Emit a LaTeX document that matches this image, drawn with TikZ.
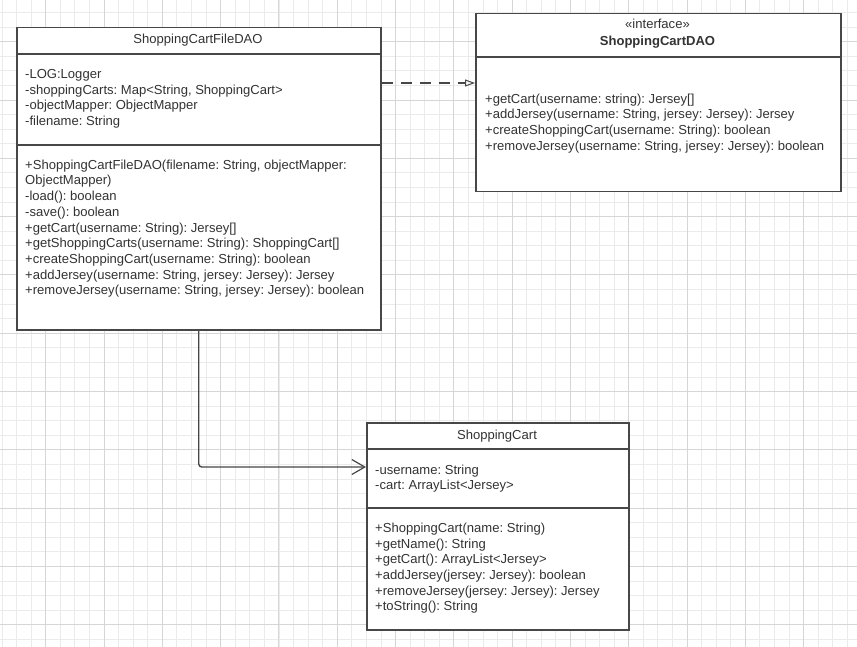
\documentclass[tikz,border=0pt]{standalone}
\usepackage{fontspec}
\setmainfont{Liberation Sans}
\usetikzlibrary{arrows.meta}
\frenchspacing

\definecolor{gridminor}{HTML}{EBEBEB}
\definecolor{gridmajor}{HTML}{D6D6D6}
\definecolor{umlline}{HTML}{474747}
\definecolor{umltext}{HTML}{333333}

\tikzset{
  umlbox/.style={draw=umlline, fill=white, line width=1.5pt, inner sep=0pt, anchor=north west},
  divider/.style={draw=umlline, line width=1.5pt},
  member/.style={anchor=base west, inner sep=0pt, text=umltext, font=\fontsize{13.05}{16}\selectfont},
  title/.style={anchor=base, inner sep=0pt, text=umltext, font=\fontsize{13.05}{16}\selectfont},
  realize/.style={draw=umlline, line width=1.1pt, dash pattern=on 11pt off 8pt,
    -{Triangle[open, length=10pt, width=7pt, line width=1pt]}},
  assoc/.style={draw=umlline, line width=1.4pt, rounded corners=3pt,
    -{Straight Barb[length=13pt, width=15pt, line width=1.2pt]}},
}

\begin{document}
\begin{tikzpicture}[x=1pt, y=-1pt]
  \useasboundingbox (0,0) rectangle (857,647);
  \fill[white] (0,0) rectangle (857,647);

  % background grid: minor and major lines
  \foreach \i in {-3,...,56}
    \draw[gridminor, line width=0.8pt] (45.7+\i*14.575, 0) -- (45.7+\i*14.575, 647);
  \foreach \i in {-2,...,42}
    \draw[gridminor, line width=0.8pt] (0, 41.7+\i*14.575) -- (857, 41.7+\i*14.575);
  \foreach \i in {0,...,14}
    \draw[gridmajor, line width=0.9pt] (45.7+\i*58.3, 0) -- (45.7+\i*58.3, 647);
  \foreach \i in {0,...,10}
    \draw[gridmajor, line width=0.9pt] (0, 41.7+\i*58.3) -- (857, 41.7+\i*58.3);

  % ShoppingCartFileDAO class
  \node[umlbox, minimum width=364pt, minimum height=302pt] (filedao) at (16,27) {};
  \draw[divider] (16,54) -- (380,54);
  \draw[divider] (16,145) -- (380,145);
  \node[title] (filedao-name) at (198,44) {ShoppingCartFileDAO};
  \foreach \t [count=\i from 0] in {
      {-LOG:Logger},
      {-shoppingCarts: Map<String, ShoppingCart>},
      {-objectMapper: ObjectMapper},
      {-filename: String}}
    \node[member] (filedao-attr-\i) at (25, 79+15.5*\i) {\t};
  \foreach \t [count=\i from 0] in {
      {+ShoppingCartFileDAO(filename: String, objectMapper:},
      {ObjectMapper)},
      {-load(): boolean},
      {-save(): boolean},
      {+getCart(username: String): Jersey[]},
      {+getShoppingCarts(username: String): ShoppingCart[]},
      {+createShoppingCart(username: String): boolean},
      {+addJersey(username: String, jersey: Jersey): Jersey},
      {+removeJersey(username: String, jersey: Jersey): boolean}}
    \node[member] (filedao-op-\i) at (25, 169.3+15.7*\i) {\t};

  % ShoppingCartDAO interface
  \node[umlbox, minimum width=365pt, minimum height=178pt] (dao) at (475,13) {};
  \draw[divider] (475,57) -- (840,57);
  \node[title] (dao-stereo) at (657.5,29) {«interface»};
  \node[title, font=\fontsize{13.05}{16}\selectfont\bfseries] (dao-name) at (657.5,45.7) {ShoppingCartDAO};
  \foreach \t [count=\i from 0] in {
      {+getCart(username: string): Jersey[]},
      {+addJersey(username: String, jersey: Jersey): Jersey},
      {+createShoppingCart(username: String): boolean},
      {+removeJersey(username: String, jersey: Jersey): boolean}}
    \node[member] (dao-op-\i) at (485, 103.3+15.6*\i) {\t};

  % ShoppingCart class
  \node[umlbox, minimum width=262pt, minimum height=207pt] (cart) at (366,422) {};
  \draw[divider] (366,449) -- (628,449);
  \draw[divider] (366,508) -- (628,508);
  \node[title] (cart-name) at (497,439) {ShoppingCart};
  \foreach \t [count=\i from 0] in {
      {-username: String},
      {-cart: ArrayList<Jersey>}}
    \node[member] (cart-attr-\i) at (375, 474+15.6*\i) {\t};
  \foreach \t [count=\i from 0] in {
      {+ShoppingCart(name: String)},
      {+getName(): String},
      {+getCart(): ArrayList<Jersey>},
      {+addJersey(jersey: Jersey): boolean},
      {+removeJersey(jersey: Jersey): Jersey},
      {+toString(): String}}
    \node[member] (cart-op-\i) at (375, 532.3+15.7*\i) {\t};

  % connectors
  \coordinate (realize-y) at (0,83);
  \coordinate (assoc-y) at (0,467);
  \draw[realize] (filedao.east |- realize-y) -- (dao.west |- realize-y);
  \draw[assoc] (filedao.south) |- (cart.west |- assoc-y);
\end{tikzpicture}
\end{document}
